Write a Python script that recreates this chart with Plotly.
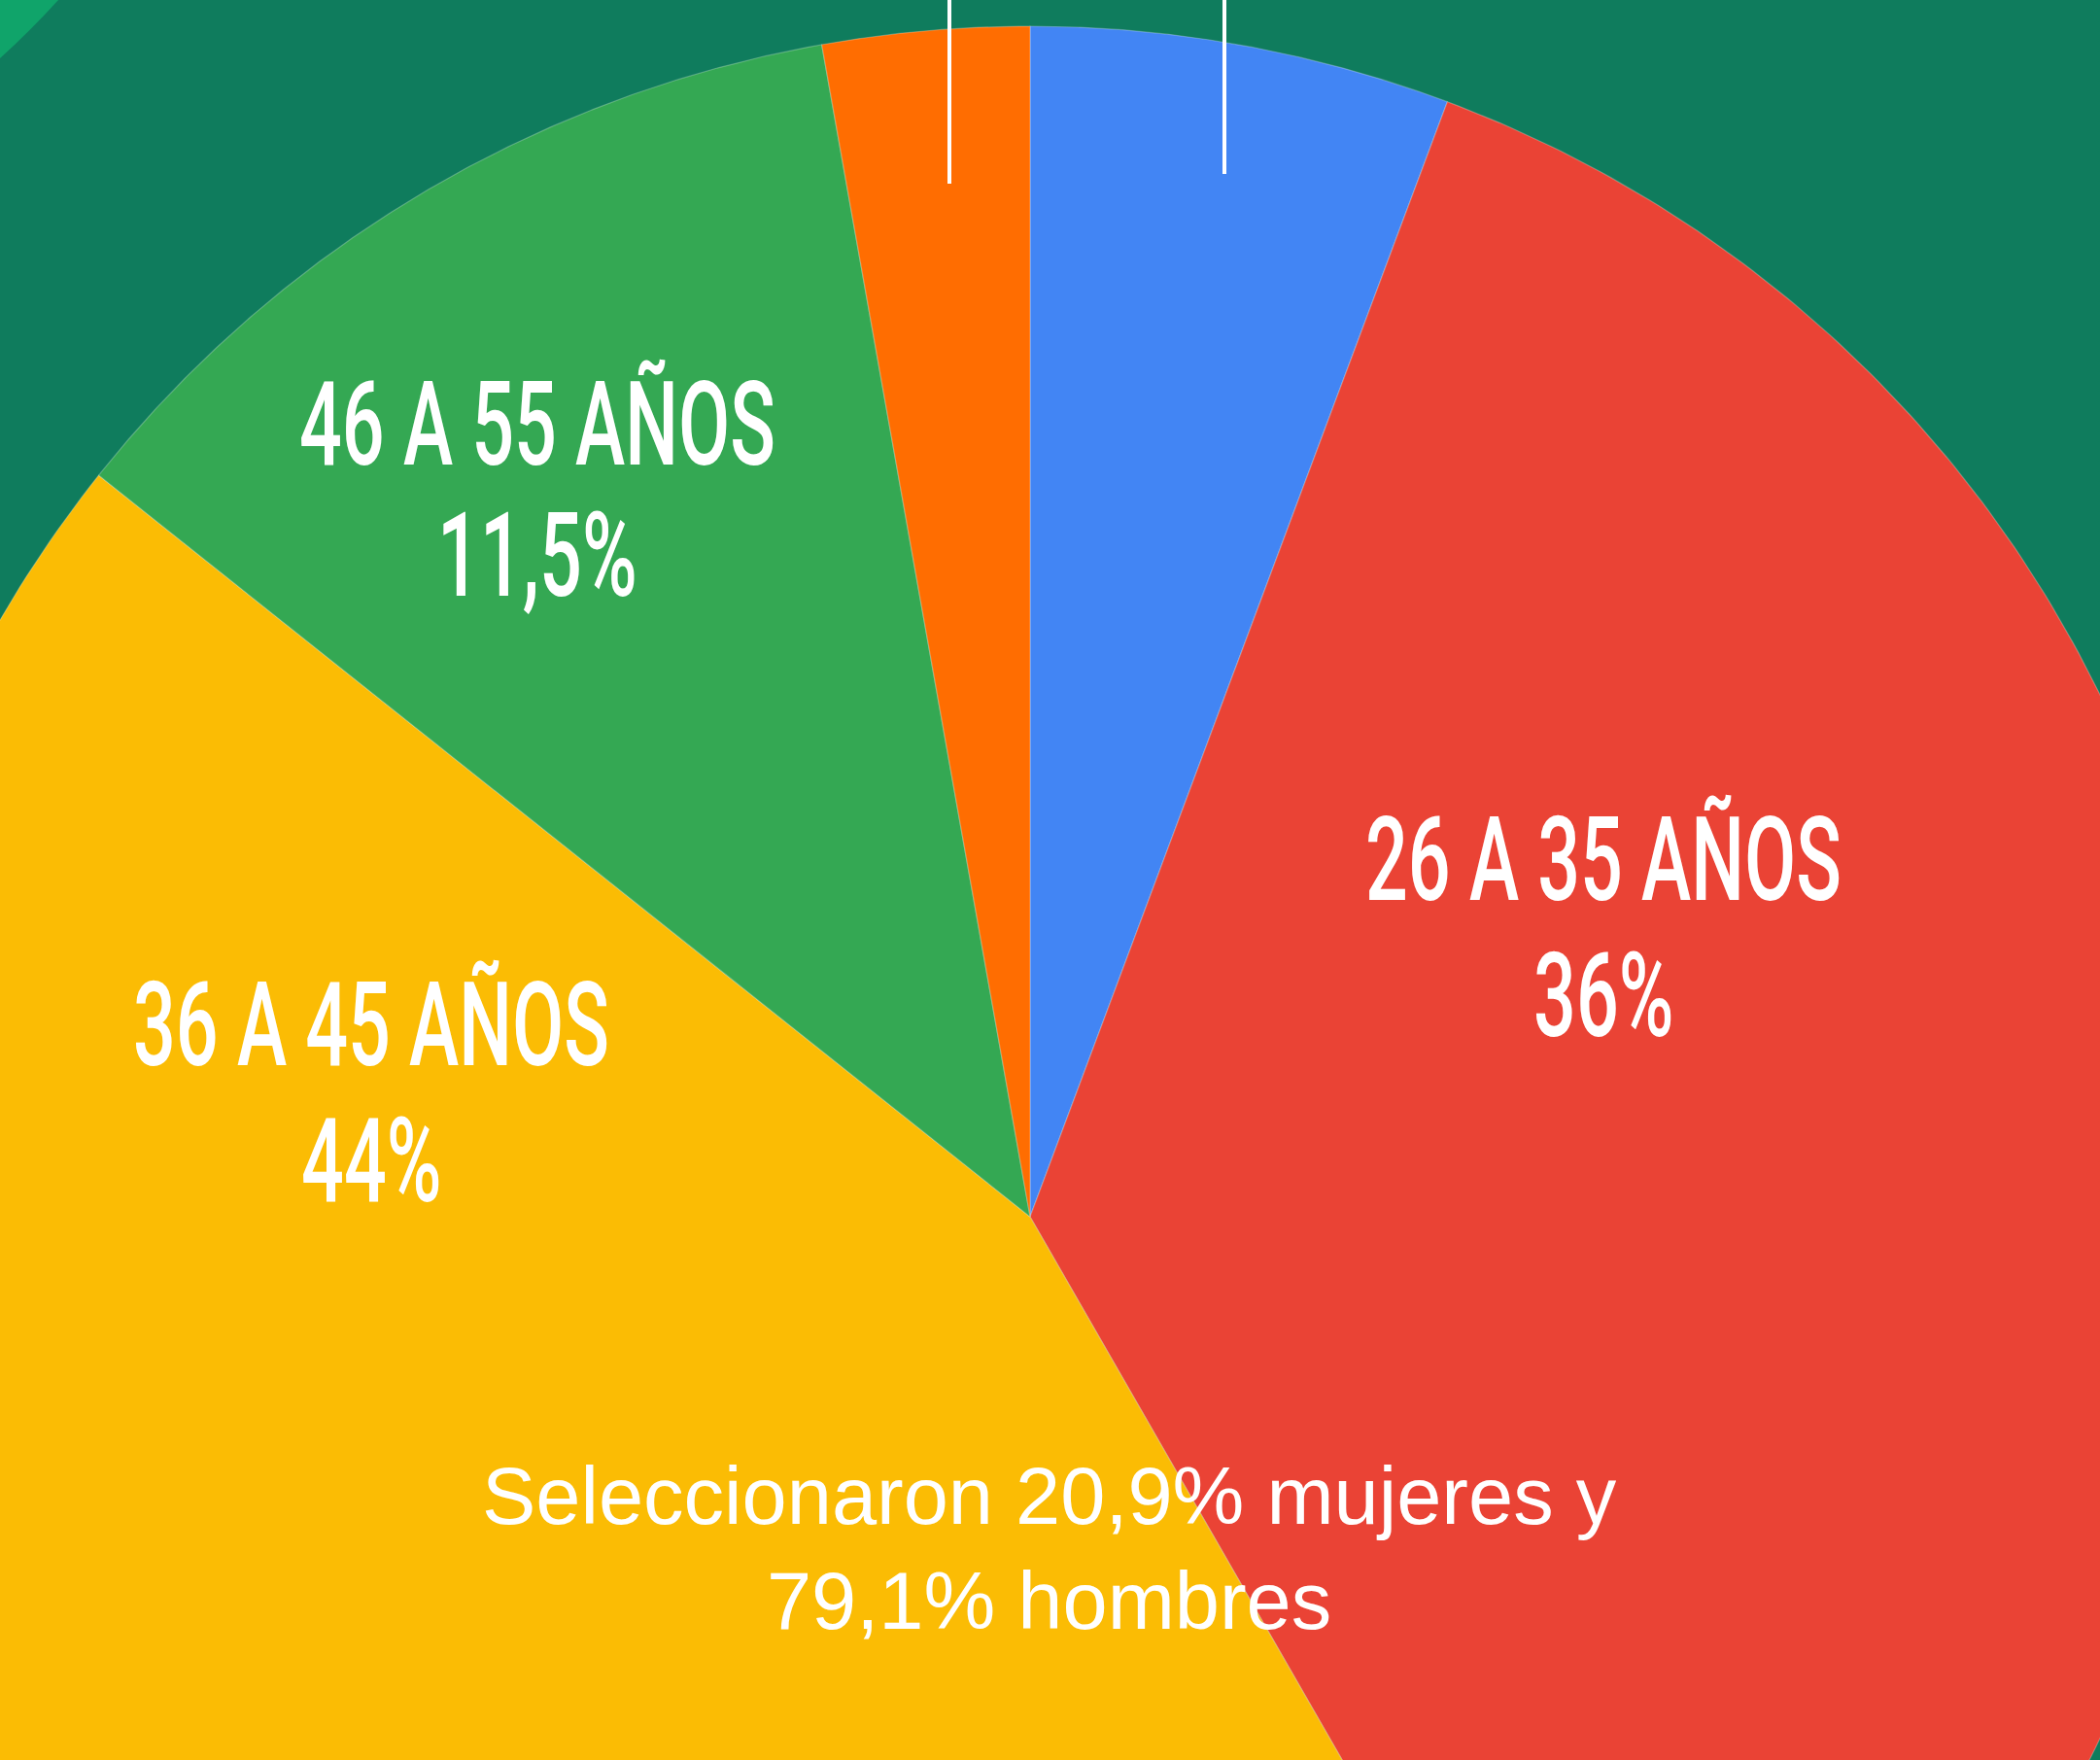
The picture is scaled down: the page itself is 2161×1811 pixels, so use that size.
import numpy as np
import plotly.graph_objects as go

# ---- data ----
categories = ["18 A 25 AÑOS", "26 A 35 AÑOS", "36 A 45 AÑOS", "46 A 55 AÑOS", "MÁS DE 55 AÑOS"]
values = [5.7, 36.0, 44.0, 11.5, 2.8]
colors = ["#4285F4", "#EA4335", "#FBBC04", "#34A853", "#FF6D01"]
label_names = ["", "26 A 35 AÑOS", "36 A 45 AÑOS", "46 A 55 AÑOS", ""]
label_pcts = ["", "36%", "44%", "11,5%", ""]
footnote = "Seleccionaron 20,9% mujeres y<br>79,1% hombres"

# ---- layout constants (pixel space of the page) ----
W, H = 2161, 1811
CX, CY, R = 1060, 1252, 1225
BG = "#0F7C5D"

fig = go.Figure()

total = sum(values)
start = 0.0
for cat, v, col in zip(categories, values, colors):
    a0 = start / total * 2 * np.pi
    a1 = (start + v) / total * 2 * np.pi
    t = np.linspace(a0, a1, 240)
    xs = np.concatenate([[CX], CX + R * np.sin(t), [CX]])
    ys = np.concatenate([[CY], CY - R * np.cos(t), [CY]])
    fig.add_trace(go.Scatter(x=xs, y=ys, mode="lines", fill="toself",
                             fillcolor=col, line=dict(color="rgba(255,255,255,0.25)", width=1.2),
                             name=cat, hoverinfo="skip", showlegend=False))
    start += v

# slice labels: (x centre, cap-centre of name line, cap-centre of percent line), page pixels
label_pos = [None, (1650, 885, 1025), (382, 1055, 1195), (553, 437, 572), None]
label_font = dict(family="Roboto, DejaVu Sans Condensed, sans-serif",
                  size=120, color="white", weight=500)
n_label_ann = 0
for name, pct, pos in zip(label_names, label_pcts, label_pos):
    if pos is None:
        continue
    for txt, yy in ((name, pos[1]), (pct, pos[2])):
        fig.add_annotation(x=pos[0], y=yy, text=txt, showarrow=False,
                           font=label_font, align="center", xanchor="center", yanchor="middle")
        n_label_ann += 1

fig.add_annotation(x=1080, y=1593, text=footnote, showarrow=False,
                   font=dict(family="Liberation Sans, Arial, sans-serif", size=83, color="white"),
                   align="center", xanchor="center", yanchor="middle")

# leader lines for the two small slices (their labels sit above the visible area)
fig.add_shape(type="line", x0=977, x1=977, y0=-5, y1=189, line=dict(color="white", width=4), layer="above")
fig.add_shape(type="line", x0=1260, x1=1260, y0=-5, y1=179, line=dict(color="white", width=4), layer="above")

# lighter green decoration in top-left corner
fig.add_shape(type="circle", x0=-1492, y0=-1492, x1=292, y1=292,
              fillcolor="#10A46A", line=dict(width=0), layer="below")

fig.update_xaxes(range=[0, W], visible=False, fixedrange=True)
fig.update_yaxes(range=[H, 0], visible=False, fixedrange=True)
fig.update_layout(width=W, height=H, margin=dict(l=0, r=0, t=0, b=0),
                  paper_bgcolor=BG, plot_bgcolor=BG, showlegend=False)

# page margin removal + condensed look for the big labels (horizontal squeeze)
post = """
document.body.style.margin = '0';
document.body.style.overflow = 'hidden';
var gd = document.getElementById('{plot_id}');
var n = %d;
var anns = gd.querySelectorAll('g.annotation');
var first = anns[0].querySelector('text.annotation-text');
var s = 490 / first.getBBox().width;
for (var i = 0; i < n && i < anns.length; i++) {
  var t = anns[i].querySelector('text.annotation-text');
  if (!t) continue;
  var bb = t.getBBox();
  var cx = bb.x + bb.width / 2;
  t.setAttribute('transform', 'translate(' + cx + ',0) scale(' + s + ',1) translate(' + (-cx) + ',0)');
}
""" % n_label_ann

fig.write_html("out.html", post_script=post, config={"displayModeBar": False})
